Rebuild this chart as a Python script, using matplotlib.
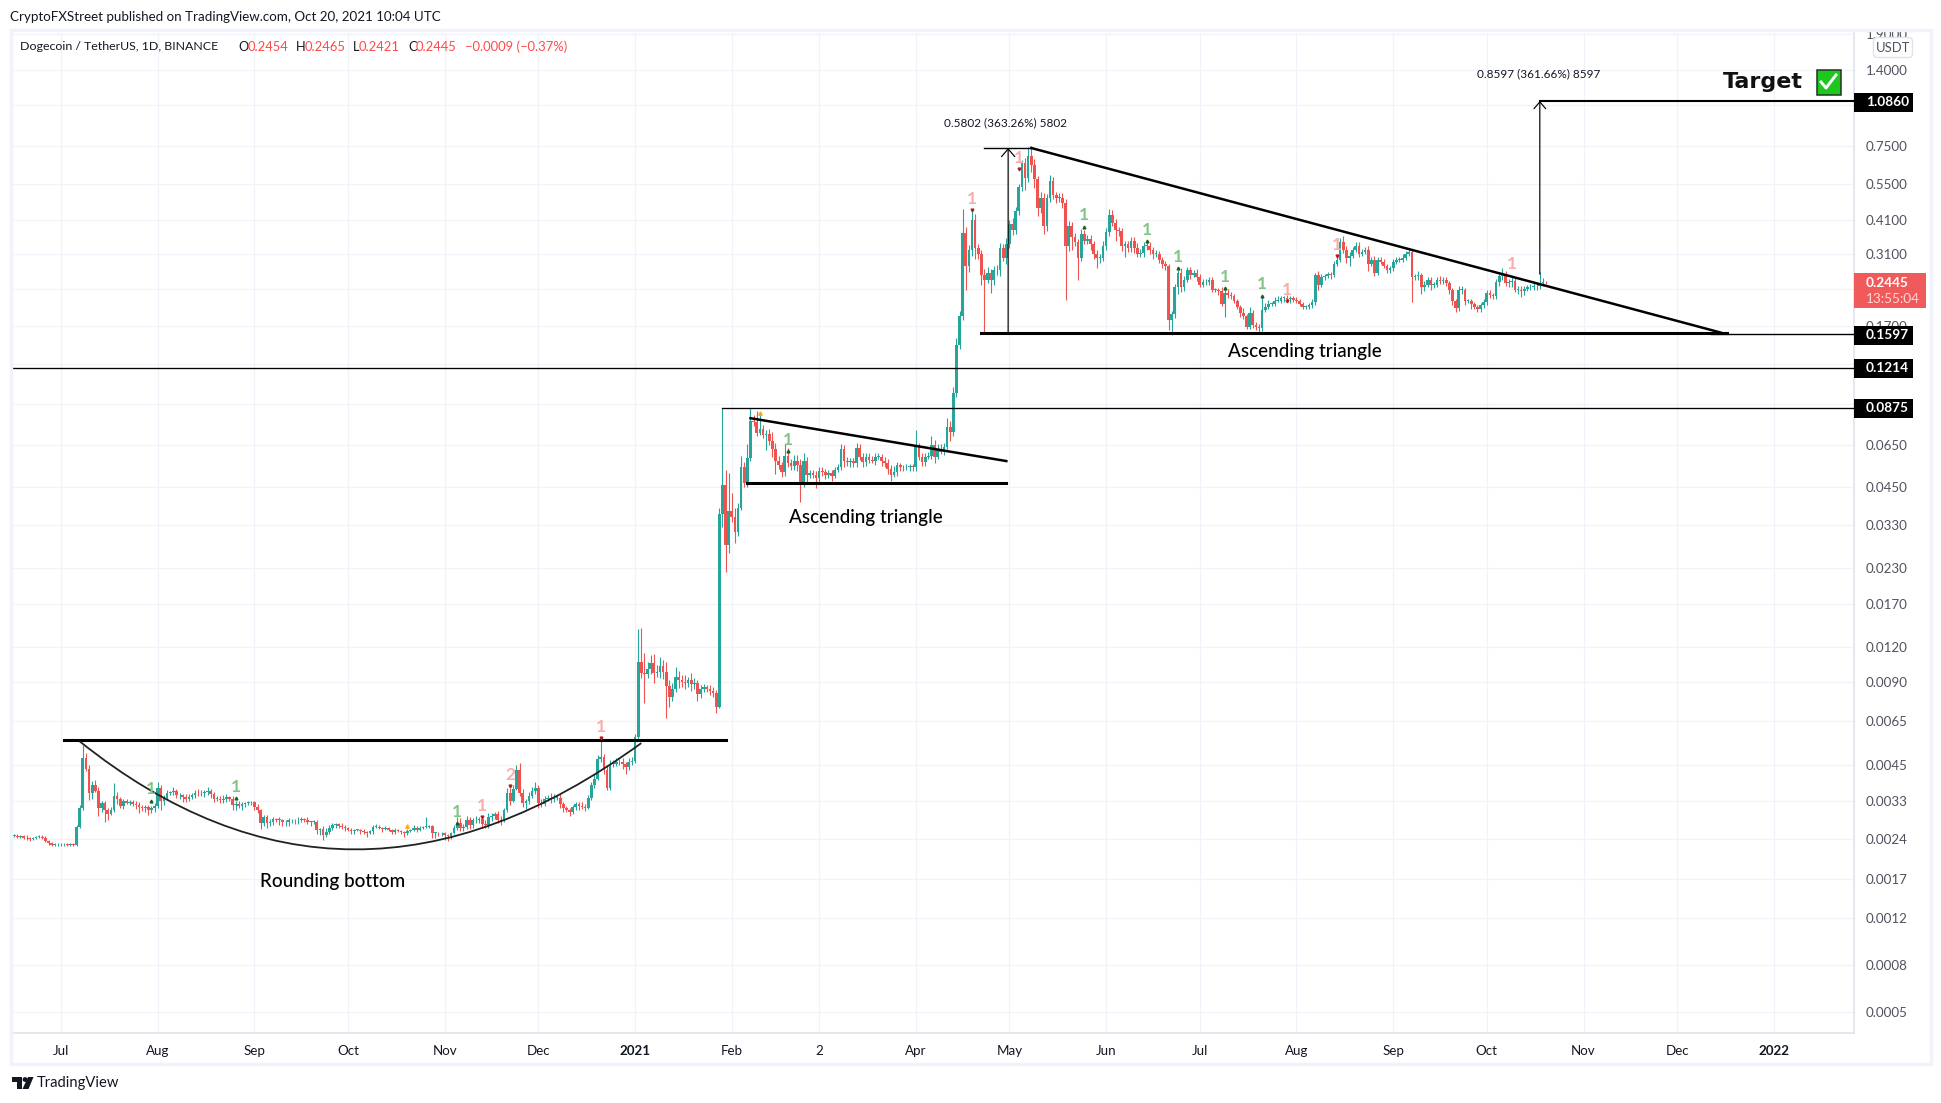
import matplotlib
matplotlib.use('Agg')
import matplotlib.pyplot as plt
import matplotlib.dates as mdates
from matplotlib.patches import Rectangle, PathPatch, Polygon, Circle, FancyBboxPatch
from matplotlib.path import Path
from matplotlib.transforms import Bbox
import numpy as np
import pandas as pd

plt.rcParams['font.family'] = ['Lato', 'DejaVu Sans']

# daily closes per month
close_2020_06 = [.0026,.00258,.00259,.00256,.00254,.00253,.00255,.00257,.00258,.00256,.00249,.00244,.00241,.00242,.00242]
close_2020_07 = [.00242,.00243,.00241,.00242,.00241,.0028,.00325,.0049,.0045,.0037,.00395,.00375,.00325,.0034,.0032,.0031,.0032,.0036,.0035,.00333,.00345,.0034,.00343,.00338,.00335,.0033,.00325,.00328,.00322,.00325,.00332]
close_2020_08 = [.00385,.00345,.00355,.0037,.00372,.00375,.00362,.00362,.00358,.00352,.00358,.00362,.0037,.00368,.00368,.00372,.00375,.00365,.00352,.00352,.00348,.00352,.00358,.00352,.00335,.00338,.00333,.00336,.0034,.00342,.00342]
close_2020_09 = [.0033,.0032,.00289,.00303,.00289,.00292,.00298,.00296,.00296,.0029,.0029,.00295,.00296,.00295,.00296,.00298,.00296,.00291,.00291,.00291,.00272,.00275,.00262,.00268,.00278,.00283,.00285,.00282,.0028,.00276]
close_2020_10 = [.00272,.0027,.00272,.00272,.0027,.00268,.00266,.0027,.00279,.0028,.00277,.00274,.00276,.00272,.00268,.00272,.0027,.00268,.00265,.0027,.00272,.00278,.00273,.00278,.00279,.00279,.00282,.00266,.00266,.00265,.00266]
close_2020_11 = [.00262,.00259,.00266,.00276,.00288,.00276,.0028,.00295,.00283,.00295,.00295,.00298,.00285,.00283,.00303,.00305,.0031,.00295,.00293,.0032,.0037,.00345,.00382,.00445,.0037,.0034,.00345,.0036,.00375,.00385]
close_2020_12 = [.0034,.00338,.00352,.00355,.0035,.00355,.00355,.00336,.00325,.00321,.00315,.00328,.00336,.00332,.0033,.00327,.00355,.00393,.00415,.00486,.00495,.00445,.00385,.0047,.0047,.00475,.00478,.00468,.00458,.00478,.00482]
close_2021_01 = [.00583,.0108,.0099,.0098,.0102,.0107,.0099,.01,.0105,.01,.0089,.0081,.0087,.0096,.0093,.0092,.0091,.0093,.009,.0091,.0083,.0087,.0088,.0087,.0085,.0084,.0075,.0365,.0463,.0283,.0375]
close_2021_02 = [.0355,.0315,.0385,.0535,.047,.058,.0785,.0775,.0712,.0735,.07,.0705,.0665,.0625,.0565,.0545,.0515,.059,.0555,.054,.0565,.0545,.0475,.0565,.0505,.051,.0505,.049]
close_2021_03 = [.052,.0515,.0505,.051,.05,.0525,.0535,.0625,.0565,.056,.0562,.0555,.063,.0585,.056,.0585,.057,.0565,.0585,.0585,.0565,.0555,.053,.0505,.0515,.0545,.0535,.0535,.0538,.054,.0535]
close_2021_04 = [.0635,.0585,.056,.0585,.059,.0645,.0585,.0625,.061,.0635,.0745,.0715,.0985,.146,.185,.367,.28,.32,.41,.325,.31,.26,.25,.265,.25,.27,.272,.325,.3,.335]
close_2021_05 = [.395,.375,.44,.535,.65,.575,.69,.64,.57,.45,.49,.39,.49,.565,.5,.49,.49,.47,.33,.39,.355,.34,.3,.365,.345,.35,.335,.31,.3,.3,.33]
close_2021_06 = [.37,.425,.4,.375,.372,.33,.335,.325,.345,.325,.31,.312,.33,.33,.318,.31,.31,.295,.285,.28,.18,.188,.235,.265,.235,.25,.27,.26,.265,.255]
close_2021_07 = [.24,.245,.245,.25,.23,.23,.228,.205,.225,.22,.218,.21,.2,.19,.185,.17,.19,.172,.17,.168,.195,.2,.205,.205,.21,.21,.215,.215,.213,.215,.212]
close_2021_08 = [.21,.205,.2,.2,.203,.208,.26,.24,.255,.258,.262,.26,.285,.295,.34,.32,.3,.305,.32,.33,.31,.315,.32,.285,.295,.265,.295,.29,.28,.27,.275]
close_2021_09 = [.29,.295,.295,.3,.31,.315,.255,.258,.26,.235,.24,.25,.24,.24,.25,.247,.25,.243,.23,.21,.198,.23,.23,.21,.21,.205,.2,.196,.203,.208]
close_2021_10 = [.225,.22,.218,.245,.258,.26,.243,.245,.248,.23,.23,.228,.232,.235,.235,.238,.237,.243,.2454,.2445]

# wick lengths in percent beyond the candle body
up_2020_06 = [1,1,1,1,2,1,1,1,1,1,1,1,1,1,1]
up_2020_07 = [1,1,1,1,1,1,3,12,5,3,3,4,3,2,2,2,3,11,3,2,2,2,2,2,2,2,1,2,2,2,2]
up_2020_08 = [5,2,2,2,1,3,2,2,1,2,2,2,2,3,3,2,3,2,2,2,2,3,2,1,2,2,2,2,1,1,1]
up_2020_09 = [1,2,1,2,2,2,2,1,2,1,2,2,1,1,2,2,1,2,1,2,2,1,2,3,2,2,1,1,2,1]
up_2020_10 = [1,2,1,1,1,2,1,1,2,2,1,1,2,1,1,2,1,1,1,2,1,2,1,1,1,9,1,1,1,1,1]
up_2020_11 = [1,1,1,3,5,4,2,4,3,2,4,2,2,4,3,3,2,3,4,2,4,4,3,4,6,3,2,3,3,5]
up_2020_12 = [2,3,2,2,4,3,2,3,2,2,2,2,2,2,3,2,2,3,4,4,17,3,4,3,3,4,2,3,2,3,3]
up_2021_01 = [3,31,33,18,6,7,8,6,7,5,8,5,5,8,5,5,6,3,6,4,3,3,3,2,3,4,2,5,89,13,36]
up_2021_02 = [16,8,4,10,5,12,11,5,10,15,3,3,4,8,5,4,3,10,6,3,5,5,5,7,3,3,3,3]
up_2021_03 = [3,3,3,3,3,2,3,4,3,3,3,3,4,3,3,3,3,3,3,3,2,3,3,3,5,3,2,2,2,2,2]
up_2021_04 = [15,3,3,3,3,7,4,4,4,3,8,5,5,6,5,22,5,4,7,5,3,3,5,5,3,4,4,4,3,5]
up_2021_05 = [3,5,3,3,3,5,8,9,5,3,5,4,3,5,3,3,4,4,3,4,3,3,3,4,3,3,3,3,3,3,4]
up_2021_06 = [3,5,4,3,3,3,3,3,3,3,4,3,3,3,3,3,3,2,2,2,2,3,3,2,4,3,3,3,2,3]
up_2021_07 = [3,3,3,2,2,2,2,3,5,3,3,2,2,2,4,2,5,3,3,2,13,3,3,2,3,4,2,2,3,2,2]
up_2021_08 = [2,2,2,2,2,3,2,3,3,2,2,2,2,3,4,5,3,3,2,3,3,2,2,3,2,3,2,2,2,2,2]
up_2021_09 = [2,2,2,3,2,3,2,2,3,2,3,2,2,2,2,3,2,2,2,2,2,3,3,2,2,2,2,2,2,3]
up_2021_10 = [2,2,2,3,3,6,3,3,3,2,3,3,2,2,3,2,2,10,3,1]

down_2020_06 = [1,1,1,1,1,2,1,1,1,1,1,1,1,1,1]
down_2020_07 = [1,1,1,1,1,1,1,1,2,6,5,1,6,3,9,5,1,1,4,2,3,1,2,2,3,5,2,3,4,3,3]
down_2020_08 = [2,7,3,2,2,2,2,3,4,3,2,2,2,2,2,3,2,3,3,2,2,2,3,2,4,4,2,4,2,2,2]
down_2020_09 = [3,2,5,3,4,3,3,2,4,3,3,3,2,3,3,2,2,2,3,2,3,4,4,2,2,2,2,2,2,2]
down_2020_10 = [1,2,2,1,2,2,3,1,2,1,1,2,1,1,2,2,1,2,3,1,1,1,2,1,1,1,1,4,4,2,2]
down_2020_11 = [4,4,2,1,1,2,2,2,3,2,2,2,3,2,2,3,2,2,3,1,1,3,1,1,3,3,5,2,2,2]
down_2020_12 = [4,3,2,2,3,2,2,3,3,2,3,1,2,3,2,3,1,2,2,1,2,3,2,2,3,2,2,4,6,3,3]
down_2021_01 = [2,2,4,21,3,4,8,3,5,6,23,8,3,3,6,4,5,3,5,4,5,3,3,3,3,3,5,1,10,20,6]
down_2021_02 = [4,9,3,2,3,3,3,3,3,2,3,12,3,7,10,3,4,3,3,3,3,5,15,4,6,3,3,8]
down_2021_03 = [3,3,4,3,4,2,2,2,5,3,4,3,3,3,4,3,3,2,3,2,4,3,4,5,2,3,3,3,2,3,3]
down_2021_04 = [3,3,3,3,2,3,5,2,2,3,2,7,3,3,3,3,18,5,5,9,4,8,35,3,10,4,4,5,3,5]
down_2021_05 = [3,4,3,3,3,9,3,5,7,6,4,7,4,3,3,4,3,4,36,4,10,3,17,3,3,3,5,4,8,4,3]
down_2021_06 = [3,3,3,8,4,4,9,3,3,4,3,3,3,3,3,4,3,3,3,3,8,12,3,5,4,3,2,3,2,3]
down_2021_07 = [2,2,2,2,2,2,3,2,10,2,2,2,2,3,2,2,2,2,3,5,2,2,2,2,2,1,2,3,2,3,2]
down_2021_08 = [2,2,2,2,2,2,2,4,2,2,2,3,2,2,2,3,4,7,2,2,3,2,2,6,2,3,2,2,2,2,2]
down_2021_09 = [2,2,2,2,2,2,18,2,3,5,3,2,4,3,2,2,2,2,3,3,3,2,3,3,2,4,2,2,2,2]
down_2021_10 = [2,2,2,2,3,3,2,3,4,2,3,5,3,2,2,2,3,2,2,1]

month_starts = ['2020-06-16','2020-07-01','2020-08-01','2020-09-01','2020-10-01','2020-11-01','2020-12-01','2021-01-01','2021-02-01','2021-03-01','2021-04-01','2021-05-01','2021-06-01','2021-07-01','2021-08-01','2021-09-01','2021-10-01']
closes_by_month = [close_2020_06,close_2020_07,close_2020_08,close_2020_09,close_2020_10,close_2020_11,close_2020_12,close_2021_01,close_2021_02,close_2021_03,close_2021_04,close_2021_05,close_2021_06,close_2021_07,close_2021_08,close_2021_09,close_2021_10]
ups_by_month = [up_2020_06,up_2020_07,up_2020_08,up_2020_09,up_2020_10,up_2020_11,up_2020_12,up_2021_01,up_2021_02,up_2021_03,up_2021_04,up_2021_05,up_2021_06,up_2021_07,up_2021_08,up_2021_09,up_2021_10]
downs_by_month = [down_2020_06,down_2020_07,down_2020_08,down_2020_09,down_2020_10,down_2020_11,down_2020_12,down_2021_01,down_2021_02,down_2021_03,down_2021_04,down_2021_05,down_2021_06,down_2021_07,down_2021_08,down_2021_09,down_2021_10]

# price axis
y_grid_prices = [1.89,1.4,1.05,.75,.55,.41,.31,.231,.1712,.125,.09,.0645,.0455,.0333,.0234,.0174,.0122,.00917,.00665,.00463,.00345,.00252,.00182,.00132,.0009,.00061]
y_tick_text = ['1.9000','1.4000','','0.7500','0.5500','0.4100','0.3100','','0.1700','','','0.0650','0.0450','0.0330','0.0230','0.0170','0.0120','0.0090','0.0065','0.0045','0.0033','0.0024','0.0017','0.0012','0.0008','0.0005']

# time axis
x_tick_dates = ['2020-07-01','2020-08-01','2020-09-01','2020-10-01','2020-11-01','2020-12-01','2021-01-01','2021-02-01','2021-03-01','2021-04-01','2021-05-01','2021-06-01','2021-07-01','2021-08-01','2021-09-01','2021-10-01','2021-11-01','2021-12-01','2022-01-01']
x_tick_text = ['Jul','Aug','Sep','Oct','Nov','Dec','2021','Feb','2','Apr','May','Jun','Jul','Aug','Sep','Oct','Nov','Dec','2022']

# study signals on the candles
green_dates = ['2020-07-30','2020-08-26','2020-11-05','2021-02-19','2021-05-25','2021-06-14','2021-06-24','2021-07-09','2021-07-21']
green_prices = [.00346,.00354,.00288,.0612,.386,.343,.275,.233,.219]
red_dates = ['2020-11-13','2020-11-22','2020-12-21','2021-04-19','2021-05-04','2021-07-29','2021-08-14']
red_prices = [.00302,.0039,.00579,.443,.621,.21,.304]
red_text = ['1','2','1','1','1','1','1']
orange_dates = ['2020-10-20','2021-02-10']
orange_prices = [.00281,.0836]

UP = '#26a69a'
DOWN = '#ef5350'
GRID = '#f0f3fa'
BORDER = '#e0e3eb'
LABEL = '#50535e'
TEXT = '#131722'


def num(day):
    return mdates.date2num(pd.Timestamp(day))


dates, opens, closes, highs, lows = [], [], [], [], []
prev = close_2020_06[0]
for start, cl, up, dn in zip(month_starts, closes_by_month, ups_by_month, downs_by_month):
    first = num(start)
    for i in range(len(cl)):
        c = cl[i]
        dates.append(first + i)
        opens.append(prev)
        closes.append(c)
        highs.append(max(prev, c) * (1 + up[i] / 100))
        lows.append(min(prev, c) * (1 - dn[i] / 100))
        prev = c
dates = np.array(dates)
opens = np.array(opens)
closes = np.array(closes)
highs = np.array(highs)
lows = np.array(lows)

fig = plt.figure(figsize=(19.41, 11.03), dpi=100, facecolor='white')
W, H = 1941.0, 1103.0
ax = fig.add_axes([12 / W, 1 - 1033 / H, (1854 - 12) / W, (1033 - 33) / H])

ax.set_yscale('log')
ax.set_ylim(.000514, 1.898)
origin = num('2020-07-01')
ax.set_xlim(origin - 15.7, origin + 574.7)

# candles
colors = np.where(closes >= opens, UP, DOWN)
ax.vlines(dates, lows, highs, colors=colors, linewidth=.8, zorder=3)
ax.bar(dates, np.maximum(np.abs(closes - opens), closes * .006), bottom=np.minimum(opens, closes),
       width=.86, color=colors, linewidth=0, zorder=4)

# axes look
ax.set_yticks(y_grid_prices)
ax.set_yticklabels(y_tick_text)
ax.minorticks_off()
ax.yaxis.set_minor_locator(matplotlib.ticker.NullLocator())
ax.yaxis.tick_right()
ax.set_xticks([num(d) for d in x_tick_dates])
ax.set_xticklabels(x_tick_text)
ax.tick_params(axis='both', length=0, labelsize=9.6, labelcolor=LABEL)
ax.tick_params(axis='y', pad=8.5)
ax.tick_params(axis='x', pad=8.5, labelcolor=TEXT)
for lab in ax.get_xticklabels():
    if lab.get_text() in ('2021', '2022'):
        lab.set_fontweight('bold')
for lab in ax.get_yticklabels():
    if lab.get_text() == '1.9000':
        lab.set_clip_on(True)
        lab.set_clip_box(Bbox.from_extents(1855, 0, 1941, H - 31))
ax.grid(True, color=GRID, linewidth=.9, zorder=0)
ax.set_axisbelow(True)
for side in ('top', 'left'):
    ax.spines[side].set_visible(False)
for side in ('right', 'bottom'):
    ax.spines[side].set_color(BORDER)
    ax.spines[side].set_linewidth(1.2)

# drawn levels
xmax = ax.get_xlim()[1]
xmin = ax.get_xlim()[0]
ax.plot([num('2021-10-18'), xmax], [1.086, 1.086], color='black', lw=1.5, zorder=6)
ax.plot([num('2021-12-12'), xmax], [.1597, .1597], color='black', lw=1.0, zorder=6)
ax.plot([xmin, xmax], [.1214, .1214], color='black', lw=.95, zorder=6)
ax.plot([num('2021-01-29'), xmax], [.0875, .0875], color='black', lw=.95, zorder=6)

# big triangle
ax.plot([num('2021-05-08'), num('2021-12-15')], [.738, .162], color='black', lw=1.8, zorder=6)
ax.plot([num('2021-04-22'), num('2021-12-17')], [.161, .161], color='black', lw=2.2, zorder=6)
ax.plot([num('2021-04-23'), num('2021-05-08')], [.738, .738], color='black', lw=1.0, zorder=6)
ax.annotate('', xy=(num('2021-04-30 14:00'), .738), xytext=(num('2021-04-30 14:00'), .161),
            arrowprops=dict(arrowstyle='->,head_length=.35,head_width=.3', color='black', lw=.85, shrinkA=0, shrinkB=0, mutation_scale=16), zorder=6)
ax.annotate('', xy=(num('2021-10-18'), 1.086), xytext=(num('2021-10-18'), .262),
            arrowprops=dict(arrowstyle='->,head_length=.35,head_width=.3', color='black', lw=.85, shrinkA=0, shrinkB=0, mutation_scale=14), zorder=6)

# small triangle
ax.plot([num('2021-02-07'), num('2021-04-30')], [.0802, .0564], color='black', lw=1.8, zorder=6)
ax.plot([num('2021-02-06'), num('2021-04-30')], [.047, .047], color='black', lw=2.2, zorder=6)

# rounding bottom
ax.plot([num('2020-07-02'), num('2021-01-30')], [.00569, .00569], color='black', lw=2.2, zorder=6)
arc = Path([(num('2020-07-07'), .00564), (num('2020-10-01'), .000963), (num('2021-01-03'), .00556)],
           [Path.MOVETO, Path.CURVE3, Path.CURVE3])
ax.add_patch(PathPatch(arc, fill=False, edgecolor='#222222', lw=1.3, zorder=6))

# signals
for d, p in zip(green_dates, green_prices):
    ax.plot(num(d), p, marker='^', ms=2, color='#1b5e20', zorder=7)
    ax.annotate('1', (num(d), p), xytext=(0, 2.5), textcoords='offset points', ha='center', va='bottom',
                fontsize=12.5, color='#85c488', fontweight='bold', zorder=7)
for d, p, s in zip(red_dates, red_prices, red_text):
    ax.plot(num(d), p, marker='v', ms=2, color='#b71c1c', zorder=7)
    ax.annotate(s, (num(d), p), xytext=(0, 2.5), textcoords='offset points', ha='center', va='bottom',
                fontsize=12.5, color='#f9adad', fontweight='bold', zorder=7)
ax.annotate('1', (num('2021-10-09'), .258), xytext=(0, 2.5), textcoords='offset points', ha='center', va='bottom',
            fontsize=12.5, color='#f9adad', fontweight='bold', zorder=7)
for d, p in zip(orange_dates, orange_prices):
    ax.plot(num(d), p, marker='^', ms=2.5, color='#ffa726', zorder=7)

# everything below is placed in image pixels
ov = fig.add_axes([0, 0, 1, 1])
ov.set_xlim(0, W)
ov.set_ylim(H, 0)
ov.axis('off')
ov.patch.set_alpha(0)

ov.add_patch(Rectangle((10.5, 30), 1920, 1034, fill=False, edgecolor=GRID, lw=2.4))

ov.text(10, 17, 'CryptoFXStreet published on TradingView.com, Oct 20, 2021 10:04 UTC',
        fontsize=9.6, color=TEXT, va='center')
ov.text(20, 47, 'Dogecoin / TetherUS, 1D, BINANCE', fontsize=8.9, color=TEXT, va='center')
legend_keys = [('O', 238), ('H', 296), ('L', 353), ('C', 408)]
legend_vals = [('0.2454', 248), ('0.2465', 305), ('0.2421', 359), ('0.2445', 416), ('\u22120.0009 (\u22120.37%)', 465)]
for s, x in legend_keys:
    ov.text(x, 47, s, fontsize=9.2, color=TEXT, va='center')
for s, x in legend_vals:
    ov.text(x, 47, s, fontsize=9.4, color='#ff4a4a', va='center')

ov.text(1006, 123, '0.5802 (363.26%) 5802', fontsize=8.5, color=TEXT, ha='center', va='center')
ov.text(1539, 74, '0.8597 (361.66%) 8597', fontsize=8.5, color=TEXT, ha='center', va='center')

ov.text(333, 881, 'Rounding bottom', fontsize=13.6, fontweight='medium', color='black', ha='center', va='center')
ov.text(866, 517, 'Ascending triangle', fontsize=13.6, fontweight='medium', color='black', ha='center', va='center')
ov.text(1305, 352, 'Ascending triangle', fontsize=13.6, fontweight='medium', color='black', ha='center', va='center')

# target with check box
ov.text(1723, 82, 'Target', fontsize=16, fontweight='bold', family=['DejaVu Sans'], color='#111111', va='center')
ov.add_patch(Rectangle((1816.5, 69.5), 24.5, 25, facecolor='#1ec71e', edgecolor='#223322', lw=1.1))
ov.plot([1821, 1826, 1836], [82, 88, 75], color='white', lw=2.1)

# price labels on the axis
for s, y in [('1.0860', 102), ('0.1597', 335), ('0.1214', 368), ('0.0875', 408)]:
    ov.add_patch(Rectangle((1854, y - 9.5), 59, 19, facecolor='black', edgecolor='none', zorder=5))
    ov.text(1866, y, s, fontsize=9.8, fontweight='bold', color='white', va='center', zorder=6)
ov.add_patch(Rectangle((1854, 273), 72, 35, facecolor='#f05a5a', edgecolor='none', zorder=5))
ov.text(1866, 283, '0.2445', fontsize=9.8, fontweight='bold', color='white', va='center', zorder=6)
ov.text(1866, 299, '13:55:04', fontsize=9.8, color='#ffd6d6', va='center', zorder=6)

ov.add_patch(FancyBboxPatch((1875, 39), 36, 17, boxstyle='round,pad=1.5,rounding_size=4',
                            facecolor='white', edgecolor=BORDER, lw=1, zorder=5))
ov.text(1893, 47.5, 'USDT', fontsize=9.4, color=LABEL, ha='center', va='center', zorder=6)

# logo
ov.add_patch(Polygon([(12, 1077), (22, 1077), (22, 1089), (16.5, 1089), (16.5, 1082), (12, 1082)], facecolor=TEXT))
ov.add_patch(Circle((25, 1079.5), 2.4, facecolor=TEXT))
ov.add_patch(Polygon([(28, 1077), (33.5, 1077), (28.5, 1089), (22.5, 1089)], facecolor=TEXT))
ov.text(37, 1083, 'TradingView', fontsize=10.6, color=TEXT, va='center')

fig.savefig('out.png', dpi=100, facecolor='white')
